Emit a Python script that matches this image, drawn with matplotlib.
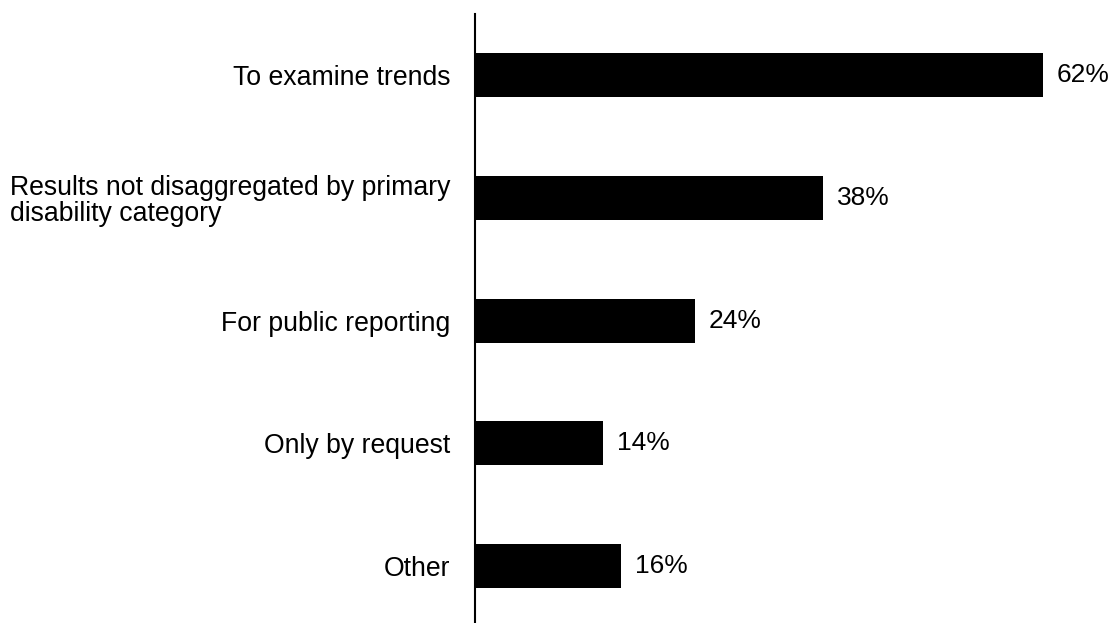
"""Horizontal bar chart: reasons results are reported, share of respondents."""

import matplotlib.pyplot as plt

categories = [
    "To examine trends",
    "Results not disaggregated by primary\ndisability category",
    "For public reporting",
    "Only by request",
    "Other",
]
percent = [62, 38, 24, 14, 16]


def main():
    plt.rcParams['font.family'] = ['Liberation Sans', 'DejaVu Sans']

    fig = plt.figure(figsize=(11.16, 6.23), dpi=100, facecolor='white')
    ax = fig.add_axes([0.4256, 0.0, 0.5744, 0.9775])

    pos = list(range(len(categories)))
    bars = ax.barh(pos, percent, height=0.358, color='black')
    ax.bar_label(bars, labels=[f"{v}%" for v in percent],
                 padding=10, fontsize=19)

    ax.set_xlim(0, 70)
    ax.set_ylim(4.464, -0.5)
    ax.set_yticks(pos)
    ax.set_yticklabels(categories, fontsize=19.2)
    for lbl in ax.get_yticklabels():
        lbl.set_multialignment('left')
        lbl.set_linespacing(0.98)
    ax.tick_params(axis='y', length=0, pad=17.5)
    ax.set_xticks([])

    for side in ('top', 'right', 'bottom'):
        ax.spines[side].set_visible(False)
    ax.spines['left'].set_linewidth(1.5)

    fig.savefig("out.png", dpi=100, facecolor='white')
    plt.close(fig)


if __name__ == "__main__":
    main()
